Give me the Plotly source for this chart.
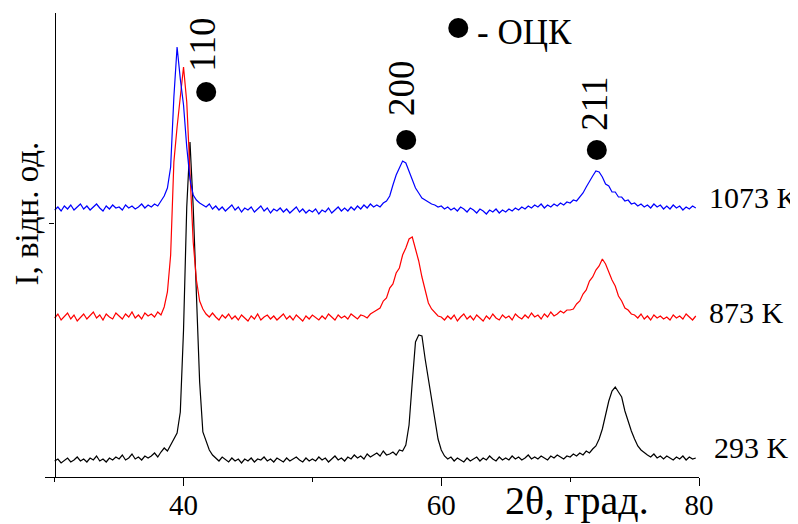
import plotly.graph_objects as go

# 2theta grid (degrees)
two_theta = [
    30.00, 30.25, 30.50, 30.75, 31.00, 31.25, 31.50, 31.75, 32.00, 32.25,
    32.50, 32.75, 33.00, 33.25, 33.50, 33.75, 34.00, 34.25, 34.50, 34.75,
    35.00, 35.25, 35.50, 35.75, 36.00, 36.25, 36.50, 36.75, 37.00, 37.25,
    37.50, 37.75, 38.00, 38.25, 38.50, 38.75, 39.00, 39.25, 39.50, 39.75,
    40.00, 40.25, 40.50, 40.75, 41.00, 41.25, 41.50, 41.75, 42.00, 42.25,
    42.50, 42.75, 43.00, 43.25, 43.50, 43.75, 44.00, 44.25, 44.50, 44.75,
    45.00, 45.25, 45.50, 45.75, 46.00, 46.25, 46.50, 46.75, 47.00, 47.25,
    47.50, 47.75, 48.00, 48.25, 48.50, 48.75, 49.00, 49.25, 49.50, 49.75,
    50.00, 50.25, 50.50, 50.75, 51.00, 51.25, 51.50, 51.75, 52.00, 52.25,
    52.50, 52.75, 53.00, 53.25, 53.50, 53.75, 54.00, 54.25, 54.50, 54.75,
    55.00, 55.25, 55.50, 55.75, 56.00, 56.25, 56.50, 56.75, 57.00, 57.25,
    57.50, 57.75, 58.00, 58.25, 58.50, 58.75, 59.00, 59.25, 59.50, 59.75,
    60.00, 60.25, 60.50, 60.75, 61.00, 61.25, 61.50, 61.75, 62.00, 62.25,
    62.50, 62.75, 63.00, 63.25, 63.50, 63.75, 64.00, 64.25, 64.50, 64.75,
    65.00, 65.25, 65.50, 65.75, 66.00, 66.25, 66.50, 66.75, 67.00, 67.25,
    67.50, 67.75, 68.00, 68.25, 68.50, 68.75, 69.00, 69.25, 69.50, 69.75,
    70.00, 70.25, 70.50, 70.75, 71.00, 71.25, 71.50, 71.75, 72.00, 72.25,
    72.50, 72.75, 73.00, 73.25, 73.50, 73.75, 74.00, 74.25, 74.50, 74.75,
    75.00, 75.25, 75.50, 75.75, 76.00, 76.25, 76.50, 76.75, 77.00, 77.25,
    77.50, 77.75, 78.00, 78.25, 78.50, 78.75, 79.00, 79.25, 79.50, 79.75,
]

# Intensities (arbitrary units, curves already vertically offset)
i_293 = [
    16, 18, 14, 17, 19, 15, 17, 20, 16, 18,
    15, 19, 17, 21, 16, 18, 15, 19, 17, 20,
    18, 22, 17, 19, 23, 18, 20, 17, 21, 19,
    21, 24, 20, 25, 29, 26, 32, 37, 44, 65,
    147, 270, 335, 270, 190, 95, 45, 35, 27, 22,
    19, 16, 20, 17, 15, 19, 16, 18, 14, 18,
    16, 19, 15, 18, 17, 20, 16, 18, 15, 19,
    17, 15, 19, 16, 18, 20, 17, 15, 19, 16,
    18, 16, 20, 17, 19, 15, 18, 21, 17, 19,
    16, 20, 18, 22, 19, 21, 18, 23, 20, 22,
    24, 21, 26, 22, 23, 25, 22, 27, 26, 32,
    52, 95, 135, 142, 141, 118, 97, 76, 56, 38,
    27, 21, 18, 20, 16, 19, 17, 15, 19, 16,
    18, 20, 16, 19, 17, 21, 18, 16, 20, 17,
    19, 17, 21, 18, 20, 17, 19, 22, 18, 20,
    18, 21, 19, 17, 21, 19, 22, 20, 18, 21,
    20, 23, 21, 24, 22, 26, 24, 28, 31, 38,
    48, 62, 76, 86, 90, 85, 80, 66, 55, 46,
    38, 31, 27, 24, 22, 20, 23, 19, 21, 18,
    21, 19, 17, 20, 18, 21, 17, 20, 18, 19,
]

i_873 = [
    159, 163, 157, 161, 164, 158, 162, 156, 160, 163,
    158, 161, 165, 159, 162, 157, 163, 160, 158, 164,
    161, 158, 163, 160, 165, 159, 162, 158, 164, 161,
    163, 160, 165, 162, 170, 185, 222, 315, 350, 380,
    410, 375, 300, 235, 197, 176, 168, 163, 160, 164,
    160, 157, 162, 159, 163, 158, 161, 157, 162, 159,
    156, 161, 158, 163, 157, 160, 162, 158, 161, 157,
    160, 163, 158, 161, 157, 162, 159, 156, 161, 158,
    162, 159, 157, 161, 158, 163, 160, 157, 162, 159,
    161, 158, 163, 160, 158, 162, 161, 159, 163, 165,
    167, 169, 176, 179, 189, 193, 204, 209, 222, 229,
    238, 240, 228, 216, 200, 186, 174, 168, 164, 161,
    160, 157, 161, 158, 162, 156, 160, 163, 158, 161,
    157, 162, 159, 156, 161, 158, 163, 159, 157, 162,
    159, 161, 157, 163, 160, 158, 162, 159, 164, 160,
    162, 158, 163, 160, 165, 161, 163, 166, 164, 167,
    167, 168, 173, 176, 183, 187, 196, 200, 207, 211,
    218, 213, 205, 197, 191, 181, 176, 169, 167, 163,
    162, 159, 163, 158, 161, 157, 162, 159, 161, 158,
    160, 157, 162, 159, 161, 158, 163, 160, 157, 161,
]

i_1073 = [
    267, 270, 266, 271, 268, 272, 267, 270, 273, 268,
    271, 267, 270, 273, 269, 266, 271, 268, 272, 269,
    270, 267, 272, 269, 271, 268, 270, 273, 269, 272,
    270, 273, 271, 276, 281, 289, 310, 380, 430, 398,
    372, 330, 298, 282, 277, 274, 272, 270, 273, 268,
    271, 267, 270, 266, 269, 272, 267, 270, 265, 269,
    267, 270, 265, 268, 271, 266, 269, 264, 268, 266,
    269, 265, 268, 264, 267, 270, 265, 268, 264, 267,
    265, 268, 263, 267, 265, 269, 264, 267, 270, 266,
    269, 266, 270, 267, 271, 268, 272, 269, 273, 270,
    272, 270, 274, 276, 281, 292, 302, 309, 316, 314,
    306, 296, 289, 284, 279, 277, 275, 273, 272, 270,
    271, 268, 270, 267, 269, 266, 270, 268, 265, 269,
    267, 264, 268, 266, 263, 267, 265, 268, 264, 267,
    265, 268, 266, 269, 267, 270, 268, 271, 269, 272,
    270, 273, 269, 272, 270, 273, 271, 274, 272, 275,
    274, 277, 276, 280, 284, 290, 296, 301, 306, 305,
    300, 293, 291, 285, 285, 280, 280, 276, 277, 273,
    274, 271, 273, 270, 272, 269, 273, 270, 272, 268,
    271, 268, 272, 269, 271, 267, 270, 268, 271, 269,
]

series_names = ["293 K", "873 K", "1073 K"]
series_colors = ["black", "red", "blue"]

# Miller indices of the bcc (ОЦК) reflections
hkl_labels = ["110", "200", "211"]
hkl_dot_x = [41.76, 57.28, 72.07]
hkl_dot_y = [385, 337, 327]
hkl_text_x = [41.41, 56.88, 71.83]
hkl_text_y = [432, 389, 373]

legend_dot_x = [61.32]
legend_dot_y = [449]

x_range = [29.25, 80.0]
y_range = [0, 464]
x_major = [40, 60, 80]
x_minor = [30, 50, 70]
y_ticks = [254]

FONT = "Liberation Serif"

fig = go.Figure()
for name, vals, col in zip(series_names, [i_293, i_873, i_1073], series_colors):
    fig.add_trace(go.Scatter(x=two_theta, y=vals, mode="lines", name=name,
                             line=dict(color=col, width=1.2)))

fig.add_trace(go.Scatter(x=hkl_dot_x, y=hkl_dot_y, mode="markers",
                         marker=dict(color="black", size=20), showlegend=False))
fig.add_trace(go.Scatter(x=legend_dot_x, y=legend_dot_y, mode="markers",
                         marker=dict(color="black", size=20), showlegend=False))

for lab, tx, ty in zip(hkl_labels, hkl_text_x, hkl_text_y):
    fig.add_annotation(x=tx, y=ty, text=lab, textangle=-90, showarrow=False,
                       xanchor="center", yanchor="middle",
                       font=dict(family=FONT, size=37, color="black"))

fig.add_annotation(x=62.6, y=445, text="- ОЦК", showarrow=False,
                   xanchor="left", yanchor="middle",
                   font=dict(family=FONT, size=35, color="black"))

# curve labels at the right
label_y = {"1073 K": 280, "873 K": 165, "293 K": 29.5}
label_x = {"1073 K": 1.0118, "873 K": 1.0118, "293 K": 1.0195}
for name in series_names:
    fig.add_annotation(x=label_x[name], xref="paper", y=label_y[name], text=name,
                       showarrow=False, xanchor="left", yanchor="middle",
                       font=dict(family=FONT, size=30, color="black"))

fig.add_annotation(x=0.8135, xref="paper", y=-0.05, yref="paper", text="2θ, град.",
                   showarrow=False, xanchor="center", yanchor="middle",
                   font=dict(family=FONT, size=40, color="black"))
fig.add_annotation(x=-0.0275, xref="paper", y=0.568, yref="paper", text="I, відн. од.",
                   textangle=-90, showarrow=False, xanchor="center", yanchor="middle",
                   font=dict(family=FONT, size=33, color="black"))

# page body adds an 8px offset, so the figure is 8px smaller than the window
fig.update_layout(
    width=790, height=516,
    margin=dict(l=37, r=99, t=5, b=47, autoexpand=False),
    paper_bgcolor="white", plot_bgcolor="white",
    showlegend=False,
    font=dict(family=FONT, color="black"),
    xaxis=dict(range=x_range, showgrid=False, zeroline=False, automargin=False,
               showline=True, linecolor="black", linewidth=1.3,
               tickmode="array", tickvals=x_major, ticktext=[str(v) for v in x_major],
               ticks="outside", ticklen=8, tickwidth=1.3, tickcolor="black",
               ticklabelstandoff=-6,
               tickfont=dict(family=FONT, size=29, color="black"),
               minor=dict(tickmode="array", tickvals=x_minor, ticks="outside",
                          ticklen=4, tickwidth=1.3, tickcolor="black", showgrid=False)),
    yaxis=dict(range=y_range, showgrid=False, zeroline=False, automargin=False,
               anchor="free", position=(54.6 - 45) / 654,
               showline=True, linecolor="black", linewidth=1.3,
               tickmode="array", tickvals=y_ticks, showticklabels=False,
               ticks="outside", ticklen=5, tickwidth=1.3, tickcolor="black"),
)

fig.write_html("out.html")
